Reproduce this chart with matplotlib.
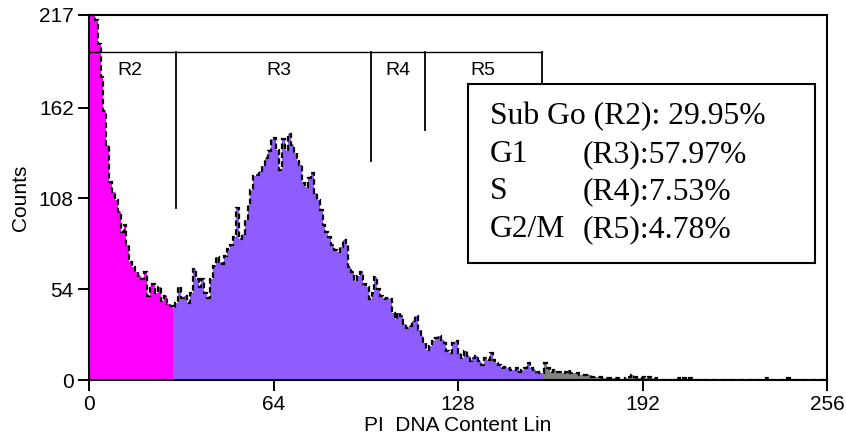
import numpy as np
import matplotlib
matplotlib.use('Agg')
import matplotlib.pyplot as plt

counts = [
    217, 217, 214, 200, 180, 160, 140, 118, 112, 107,
    100, 88, 92, 80, 70, 67, 64, 62, 60, 64,
    50, 56, 57, 52, 55, 47, 50, 45, 44, 43,
    46, 55, 49, 50, 46, 52, 66, 60, 55, 60,
    52, 49, 60, 68, 73, 70, 69, 74, 78, 80,
    85, 102, 84, 87, 95, 104, 113, 121, 122, 124,
    127, 132, 136, 143, 144, 137, 125, 143, 137, 146,
    140, 135, 130, 128, 117, 115, 120, 123, 111, 107,
    101, 92, 88, 85, 80, 77, 76, 79, 83, 80,
    67, 64, 59, 62, 64, 57, 55, 48, 52, 61,
    54, 50, 48, 49, 48, 40, 36, 40, 38, 33,
    31, 32, 35, 38, 30, 26, 22, 18, 20, 23,
    25, 26, 24, 22, 17, 16, 22, 23, 16, 13,
    17, 14, 11, 13, 14, 11, 9, 13, 12, 16,
    12, 10, 9, 7, 8, 7, 6, 6, 7, 5,
    6, 7, 10, 7, 6, 5, 4, 4, 10, 7,
    5, 6, 5, 5, 4, 5, 6, 4, 4, 4,
    3, 3, 3, 3, 2, 2, 2, 2, 1, 1,
    1, 1, 1, 1, 0, 0, 1, 2, 3, 2,
    1, 1, 2, 1, 2, 1, 1, 0, 0, 0,
    0, 0, 0, 0, 1, 0, 1, 0, 1, 0,
    0, 0, 0, 0, 0, 0, 0, 0, 0, 0,
    0, 0, 0, 0, 0, 0, 0, 0, 0, 0,
    0, 0, 0, 0, 0, 1, 0, 0, 0, 0,
    0, 0, 1, 0, 0, 0, 0, 0, 0, 0,
    0, 0, 0, 0, 0, 0,
]

# Cortes de cor do preenchimento (canais)
color_cuts = [0, 29, 158, 256]
fill_colors = ['#ff00ff', '#8f5cff', '#808080']

# Marcadores de região
region_names = ['R2', 'R3', 'R4', 'R5']
region_edges = [0, 30.2, 97.8, 116.5, 157]
region_bar_y = 195
region_drop = [102, 130, 148.6, 176]

xticks = [0, 64, 128, 192, 256]
yticks = [0, 54, 108, 162, 217]

stats_names = ['Sub Go (R2): 29.95%', 'G1', 'S', 'G2/M']
stats_values = ['', '(R3):57.97%', '(R4):7.53%', '(R5):4.78%']

counts = np.array(counts, dtype=float)
edges = np.arange(len(counts) + 1)

W, H = 846, 440
fig = plt.figure(figsize=(W / 100, H / 100), dpi=100)
ax = fig.add_axes([89 / W, 1 - 380 / H, (827 - 89) / W, (380 - 15) / H])

sans = ['Liberation Sans', 'DejaVu Sans']
serif = ['Liberation Serif', 'DejaVu Serif']

# Histograma preenchido em três cores
for i in range(len(color_cuts) - 1):
    a, b = color_cuts[i], color_cuts[i + 1]
    ax.stairs(counts[a:b], edges[a:b + 1], fill=True, color=fill_colors[i],
              linewidth=0, zorder=1)

# Contorno tracejado
ax.stairs(counts, edges, baseline=None, color='black', linewidth=1.6,
          linestyle=(0, (2.5, 1.5)), zorder=2)

# Marcadores de região
ax.plot([region_edges[0], region_edges[-1]], [region_bar_y, region_bar_y],
        color='black', linewidth=1.0, zorder=3)
for xe, yb in zip(region_edges[1:], region_drop):
    ax.plot([xe, xe], [region_bar_y, yb], color='black', linewidth=1.3, zorder=3)
label_x = [14.2, 66, 107, 136.5]
for name, lx in zip(region_names, label_x):
    ax.text(lx, 184, name, ha='center', va='center', fontsize=14,
            family=sans, zorder=3)

ax.set_xlim(0, 256)
ax.set_ylim(0, 217)
ax.set_xticks(xticks)
ax.set_yticks(yticks)
ax.tick_params(direction='out', length=8, width=1.4, labelsize=15, pad=3)
for lab in ax.get_xticklabels() + ax.get_yticklabels():
    lab.set_family(sans)
for sp in ax.spines.values():
    sp.set_linewidth(1.5)

ax.set_xlabel('PI  DNA Content Lin', fontsize=15, family=sans, labelpad=1)
ax.set_ylabel('Counts', fontsize=15, family=sans, labelpad=6)

# Caixa com as percentagens
box = plt.Rectangle((468 / W, 1 - 263 / H), (815 - 468) / W, (263 - 84) / H,
                    transform=fig.transFigure, facecolor='white',
                    edgecolor='black', linewidth=1.5, zorder=5)
fig.add_artist(box)
baselines = [124, 162, 199, 237]
for name, val, yb in zip(stats_names, stats_values, baselines):
    fig.text(490 / W, 1 - yb / H, name, fontsize=22.8, family=serif,
             va='baseline', ha='left', zorder=6)
    if val:
        fig.text(583 / W, 1 - yb / H, val, fontsize=22.8, family=serif,
                 va='baseline', ha='left', zorder=6)

fig.savefig('out.png', dpi=100)
